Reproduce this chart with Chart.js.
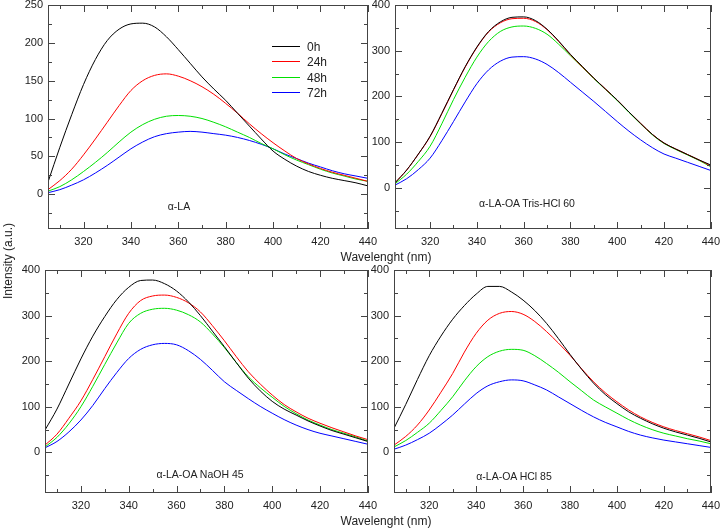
<!DOCTYPE html>
<html><head><meta charset="utf-8">
<script src="https://cdn.jsdelivr.net/npm/chart.js"></script>
<style>
html,body{margin:0;padding:0;background:#fff;width:721px;height:529px;overflow:hidden;position:relative;font-family:"Liberation Sans",Arial,sans-serif;}
canvas{position:absolute;}
.lbl{position:absolute;font-size:12px;color:#222;white-space:nowrap;transform:translate(-50%,-50%);}
.ann{position:absolute;font-size:10.5px;color:#222;white-space:nowrap;transform:translate(-50%,-50%);}
.rot{transform:translate(-50%,-50%) rotate(-90deg);}
.lg{position:absolute;left:272px;width:28px;height:1px;background:#000;}
.lgt{position:absolute;left:307px;font-size:12px;color:#222;transform:translateY(-50%);}
.fr{position:absolute;box-sizing:border-box;border:1px solid #444;pointer-events:none;}
.tk{position:absolute;background:#444;pointer-events:none;}
</style></head><body>
<canvas id="c1"></canvas><canvas id="c2"></canvas><canvas id="c3"></canvas><canvas id="c4"></canvas>
<div id="overlay"></div>
<div class="lbl" style="left:386px;top:257px;">Wavelenght (nm)</div>
<div class="lbl" style="left:386px;top:521px;">Wavelenght (nm)</div>
<div class="lbl rot" style="left:8px;top:261px;">Intensity (a.u.)</div>
<div class="ann" style="left:179px;top:206px;">α-LA</div>
<div class="ann" style="left:527px;top:203px;">α-LA-OA Tris-HCl 60</div>
<div class="ann" style="left:200px;top:474px;">α-LA-OA NaOH 45</div>
<div class="ann" style="left:514px;top:476px;">α-LA-OA HCl 85</div>
<div id="legend"></div>
<script>
// ---- data ----
const wavelengths = [305,310,315,320,325,330,335,340,345,350,355,360,365,370,375,380,385,390,395,400,405,410,415,420,425,430,435,440];
const seriesNames = ['0h','24h','48h','72h'];
const seriesColors = ['#000000','#ff0000','#00e000','#0000ff'];

const la0h  = [16,62,105,145,178,203,218,225,226,221,208,191,173,155,139,124,107,90,73,57,46,37,30,25,21,18,15,11];
const la24h = [6,18,33,52,73,95,117,137,150,157,159,156,150,142,132,120,107,93,80,68,57,47,40,34,29,25,21,17];
const la48h = [4,10,19,30,42,55,69,82,92,99,103,104,103,100,95,89,82,75,67,60,52,45,39,33,28,24,20,17];
const la72h = [2,6,12,19,28,38,49,60,69,76,80,82,83,82,80,78,75,71,66,60,53,47,41,36,31,27,24,21];

const tris0h  = [11,39,74,113,163,215,265,308,342,363,373,374,366,347,321,292,266,240,216,192,166,141,117,98,85,73,61,50];
const tris24h = [11,39,74,112,162,214,264,307,341,361,370,371,364,346,320,291,265,240,216,192,166,141,117,98,85,73,61,48];
const tris48h = [9,30,58,91,140,193,242,286,320,342,352,354,349,336,314,289,264,239,215,191,165,140,116,97,84,72,60,46];
const tris72h = [6,20,40,65,103,145,188,228,258,277,286,287,282,270,252,231,210,189,167,145,124,105,88,74,65,56,47,38];

const naoh0h  = [49,95,150,205,255,298,335,362,377,378,370,354,330,300,266,232,197,163,135,112,95,82,69,58,48,40,32,24];
const naoh24h = [16,40,75,113,160,210,260,305,333,343,345,340,328,308,278,245,210,177,150,126,105,89,75,64,54,45,36,28];
const naoh48h = [12,33,63,100,145,193,240,283,305,314,316,312,302,286,260,230,197,166,142,121,101,85,71,60,50,42,34,25];
const naoh72h = [10,24,45,71,103,140,175,206,226,236,239,236,223,204,180,155,136,118,101,86,72,60,50,42,36,30,24,18];

const hcl0h  = [53,105,160,212,255,292,322,347,364,364,352,334,311,283,250,215,182,152,127,107,89,75,63,53,45,38,31,23];
const hcl24h = [16,35,60,93,132,173,220,261,290,305,309,303,287,265,240,213,183,155,131,111,93,78,66,56,48,41,34,26];
const hcl48h = [12,26,44,64,92,122,157,188,210,222,226,224,212,195,176,155,135,115,100,86,72,60,50,42,36,30,25,19];
const hcl72h = [7,16,28,42,61,82,106,129,146,155,159,157,148,137,122,107,92,78,66,56,46,38,32,27,23,19,15,11];

const xMajorTicks = [320,340,360,380,400,420,440];
const xMinorTicks = [310,330,350,370,390,410,430];
const laYTicks = [0,50,100,150,200,250];
const laYMinor = [-25,25,75,125,175,225];
const oaYTicks = [0,100,200,300,400];
const oaYMinor = [-50,50,150,250,350];

// ---- styling ----
const FRAME = '#444444';
const TEXT = '#222222';
const FONT = '"Liberation Sans", Arial, sans-serif';

// legend (HTML)
const lg = document.getElementById('legend');
seriesNames.forEach((n, i) => {
  const y = Math.round(46 + i * 15.3);
  const line = document.createElement('div');
  line.className = 'lg'; line.style.top = y + 'px'; line.style.background = seriesColors[i];
  const t = document.createElement('div');
  t.className = 'lgt'; t.style.top = (y + 0.5) + 'px'; t.textContent = n;
  lg.appendChild(line); lg.appendChild(t);
});

// frame + inward ticks, placed from the chart's own scales
function addFrame(chart, offX, offY, yMajor, yMinor) {
  const ov = document.getElementById('overlay');
  const a = chart.chartArea, xs = chart.scales.x, ys = chart.scales.y;
  const L = Math.round(a.left) + offX, R = Math.round(a.right) + offX;
  const T = Math.round(a.top) + offY, B = Math.round(a.bottom) + offY;
  const add = (cls, l, t, w, h) => {
    const d = document.createElement('div');
    d.className = cls;
    d.style.left = l + 'px'; d.style.top = t + 'px';
    d.style.width = w + 'px'; d.style.height = h + 'px';
    ov.appendChild(d);
  };
  add('fr', L, T, R - L, B - T);
  const vt = (v, len) => {
    const p = Math.round(xs.getPixelForValue(v)) + offX;
    add('tk', p, B - len, 1, len);
    add('tk', p, T, 1, len);
  };
  const ht = (v, len) => {
    const p = Math.round(ys.getPixelForValue(v)) + offY;
    add('tk', L, p, len, 1);
    add('tk', R - len, p, len, 1);
  };
  xMajorTicks.forEach(v => vt(v, 7));
  xMinorTicks.forEach(v => vt(v, 4));
  yMajor.forEach(v => ht(v, 7));
  yMinor.forEach(v => ht(v, 4));
}

function makePanel(id, rect, yMin, yMax, yTicks, yMinor, series) {
  const cv = document.getElementById(id);
  const W = rect.r - rect.l + 75, H = rect.b - rect.t + 45;
  const offX = rect.l - 60, offY = rect.t - 15;
  cv.width = W; cv.height = H;
  cv.style.left = offX + 'px';
  cv.style.top = offY + 'px';
  const chart = new Chart(cv, {
    type: 'line',
    data: {
      datasets: series.map((s, i) => ({
        label: seriesNames[i],
        data: wavelengths.map((w, k) => ({x: w, y: s[k]})),
        borderColor: seriesColors[i],
        borderWidth: 1,
        pointRadius: 0,
        fill: false,
        cubicInterpolationMode: 'monotone'
      }))
    },
    options: {
      responsive: false,
      devicePixelRatio: 1,
      animation: false,
      events: [],
      layout: {padding: {left: 20, top: 15, right: 15, bottom: 10}},
      plugins: {legend: {display: false}, tooltip: {enabled: false}},
      scales: {
        x: {
          type: 'linear', min: 305, max: 440,
          grid: {display: false, drawTicks: false},
          border: {display: false},
          afterBuildTicks: s => { s.ticks = xMajorTicks.map(v => ({value: v})); },
          afterFit: s => { s.height = 20; },
          ticks: {autoSkip: false, maxRotation: 0, padding: 6, color: TEXT, font: {size: 11, family: FONT}}
        },
        y: {
          type: 'linear', min: yMin, max: yMax,
          grid: {display: false, drawTicks: false},
          border: {display: false},
          afterBuildTicks: s => { s.ticks = yTicks.map(v => ({value: v})); },
          afterFit: s => { s.width = 40; },
          ticks: {autoSkip: false, padding: 5, color: TEXT, font: {size: 11, family: FONT}}
        }
      }
    }
  });
  addFrame(chart, offX, offY, yTicks, yMinor);
}

makePanel('c1', {l: 48, t: 5, r: 368, b: 229}, -46, 250, laYTicks, laYMinor, [la0h, la24h, la48h, la72h]);
makePanel('c2', {l: 395, t: 5, r: 711, b: 229}, -90, 400, oaYTicks, oaYMinor, [tris0h, tris24h, tris48h, tris72h]);
makePanel('c3', {l: 45, t: 270, r: 368, b: 493}, -89, 400, oaYTicks, oaYMinor, [naoh0h, naoh24h, naoh48h, naoh72h]);
makePanel('c4', {l: 394, t: 270, r: 711, b: 493}, -89, 400, oaYTicks, oaYMinor, [hcl0h, hcl24h, hcl48h, hcl72h]);
</script>
</body></html>
